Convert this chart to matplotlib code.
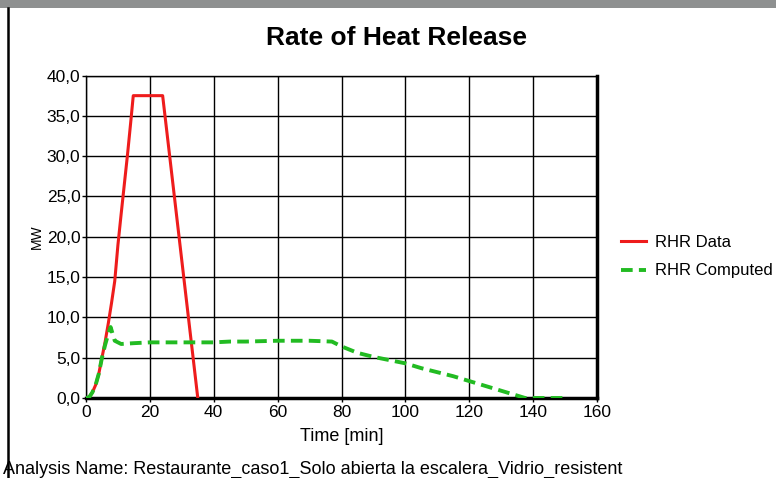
import numpy as np
import matplotlib.pyplot as plt
from matplotlib.ticker import FuncFormatter

plt.rcParams['font.family'] = ['Liberation Sans', 'DejaVu Sans']

# Datos
t_data = [0, 1, 2, 3, 4, 5, 6, 7, 8, 9, 10, 11, 12, 13, 14, 14.8, 24, 35]
rhr_data = [0, 0.1, 0.7, 1.6, 3.0, 5.0, 7.0, 9.3, 11.8, 14.5, 19.0, 22.8, 26.5, 30.2, 34.2, 37.5, 37.5, 0]

t_comp = [0, 1, 2, 3, 4, 5, 6, 7, 7.7, 9, 11, 15, 20, 30, 40, 45, 50, 60, 70, 77,
          80, 85, 90, 95, 100, 105, 110, 115, 120, 125, 130, 135, 137.5, 150]
rhr_comp = [0, 0.1, 0.7, 1.6, 3.0, 5.0, 6.6, 8.0, 8.8, 7.1, 6.7, 6.8, 6.9, 6.9, 6.9, 7.0, 7.0, 7.1, 7.1, 7.0,
            6.4, 5.6, 5.1, 4.7, 4.3, 3.7, 3.2, 2.7, 2.1, 1.5, 0.9, 0.3, 0.0, 0.0]

x_ticks = [0, 20, 40, 60, 80, 100, 120, 140, 160]
y_ticks = [0, 5, 10, 15, 20, 25, 30, 35, 40]

fig = plt.figure(figsize=(7.76, 4.78), dpi=100)
fig.patch.set_facecolor('white')

# barra gris superior y linea izquierda (captura de pantalla)
fig.patches.append(plt.Rectangle((0, 1 - 8 / 478), 1, 8 / 478, transform=fig.transFigure,
                                 facecolor='#8e9090', edgecolor='none'))
fig.lines.append(plt.Line2D([7.5 / 776, 7.5 / 776], [0, 1 - 8 / 478], transform=fig.transFigure,
                            color='black', lw=1.8))

ax = fig.add_axes([86 / 776, 1 - 398 / 478, 511 / 776, 322.5 / 478])

ax.plot(t_data, rhr_data, color='#ee1c1c', lw=2.2, label='RHR Data', zorder=3)
ax.plot(t_comp, rhr_comp, color='#22bb22', lw=2.8, ls=(0, (3, 1.6)), label='RHR Computed', zorder=4)

ax.set_xlim(0, 160)
ax.set_ylim(0, 40)
ax.set_xticks(x_ticks)
ax.set_yticks(y_ticks)
ax.yaxis.set_major_formatter(FuncFormatter(lambda v, p: f"{v:.1f}".replace('.', ',')))
ax.grid(True, color='black', lw=1.0)
ax.set_axisbelow(True)
ax.tick_params(labelsize=12.5, length=3, width=1, pad=1, colors='black')
ax.tick_params(axis='x', pad=2)

ax.spines['left'].set_linewidth(1.0)
ax.spines['top'].set_linewidth(1.0)
ax.spines['right'].set_linewidth(2.5)
ax.spines['bottom'].set_linewidth(2.5)

ax.set_xlabel('Time [min]', fontsize=13, labelpad=6)
ax.set_ylabel('MW', fontsize=10, labelpad=2)

fig.text(397 / 776, 1 - 38 / 478, 'Rate of Heat Release', fontsize=19, fontweight='bold',
         ha='center', va='center')

fig.legend(loc='upper left', bbox_to_anchor=(606 / 776, 1 - 220 / 478), frameon=False,
           fontsize=12, handlelength=1.5, handletextpad=0.55, labelspacing=0.8)

fig.text(3 / 776, 1 - 461 / 478,
         'Analysis Name: Restaurante_caso1_Solo abierta la escalera_Vidrio_resistent',
         fontsize=13, ha='left', va='top')

fig.savefig('out.png', dpi=100)
